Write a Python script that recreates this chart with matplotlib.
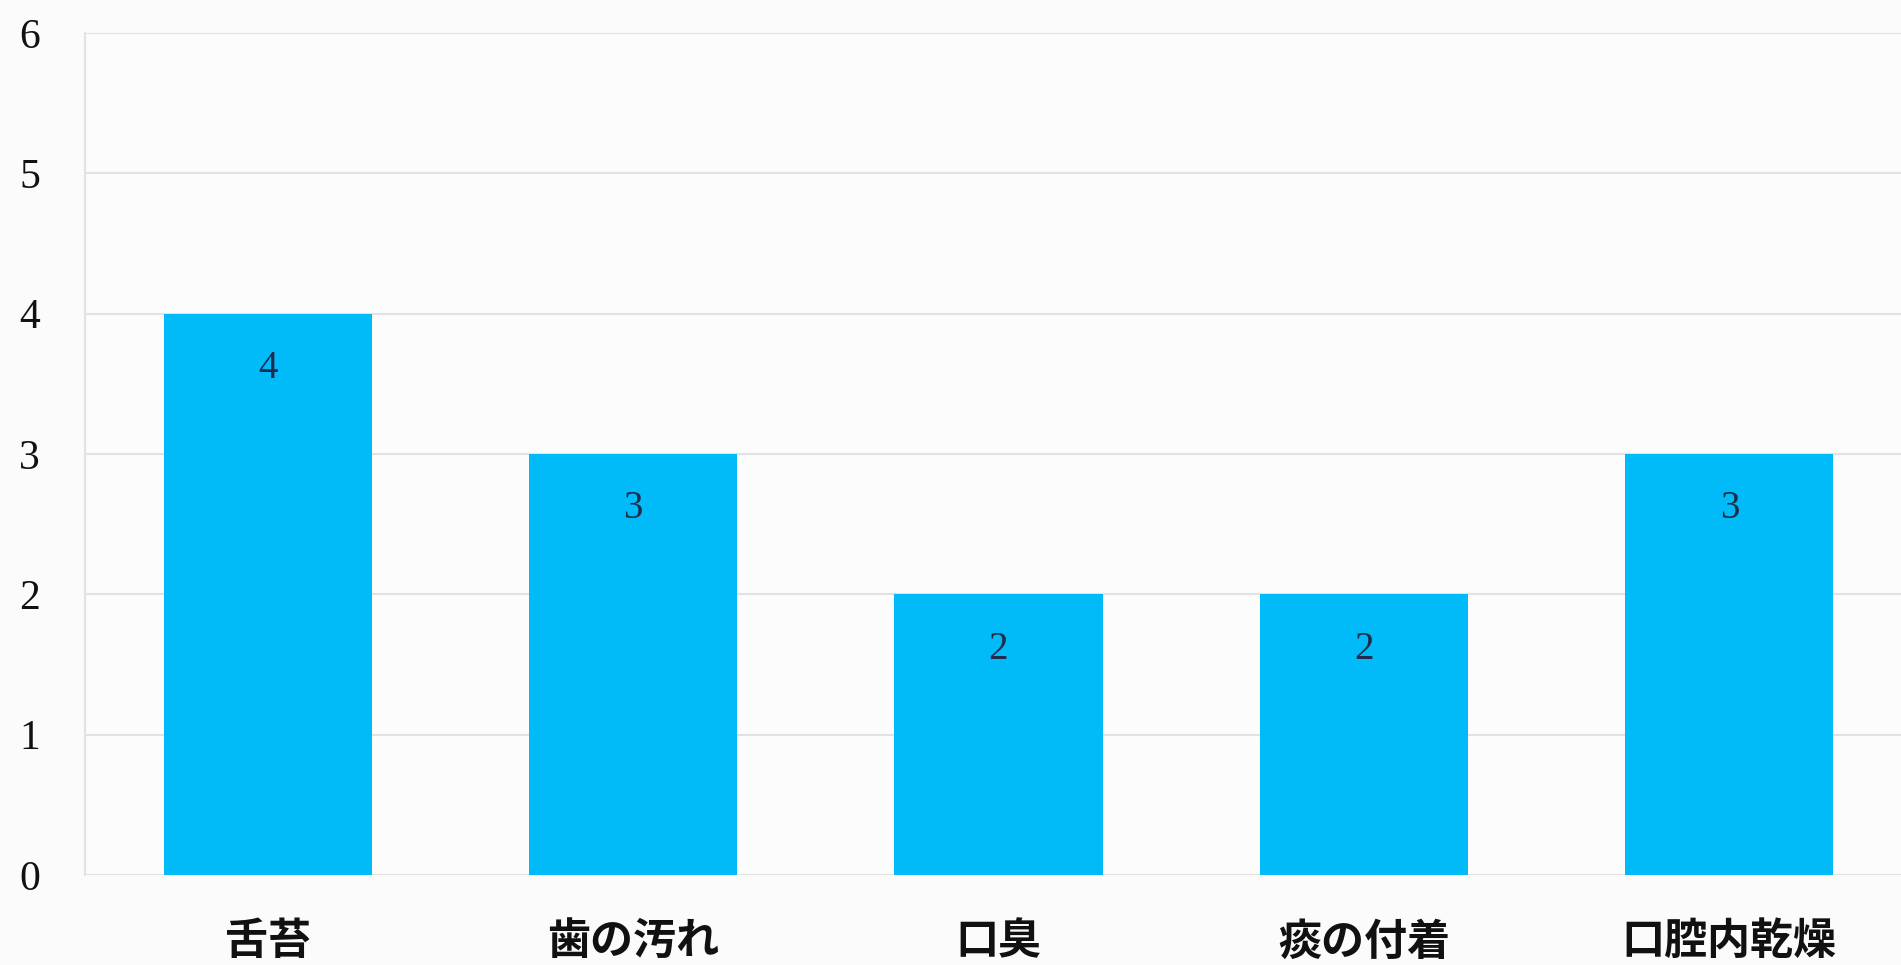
import matplotlib.pyplot as plt
import numpy as np

# データ
categories = ['舌苔', '歯の汚れ', '口臭', '痰の付着', '口腔内乾燥']
counts = [4, 3, 2, 2, 3]
y_ticks = [0, 1, 2, 3, 4, 5, 6]

bar_color = '#00BBF7'
grid_color = '#E2E2E2'

fig = plt.figure(figsize=(19.01, 9.65), dpi=100)
fig.patch.set_facecolor('#FBFBFB')
ax = fig.add_axes([0.0447, 0.0933, 0.9553, 0.8725])
ax.set_facecolor('#FCFCFC')

x = np.arange(len(categories))
bars = ax.bar(x, counts, width=0.57, color=bar_color, zorder=3)

# 値ラベル（棒の内側上部）
for rect, v in zip(bars, counts):
    ax.text(rect.get_x() + rect.get_width() / 2, v - 0.39, str(v),
            ha='center', va='center', fontsize=28,
            family=['Liberation Serif', 'DejaVu Serif'], color='#1F2D4D', zorder=4)

ax.set_xlim(-0.5, 4.47)
ax.set_ylim(0, 6)
ax.set_yticks(y_ticks)
ax.set_yticklabels([str(t) for t in y_ticks], family=['Liberation Serif', 'DejaVu Serif'],
                   fontsize=30, ha='center', color='#111111')
ax.set_xticks(x)
ax.set_xticklabels(categories, family=['Noto Sans CJK JP', 'DejaVu Sans'],
                   fontsize=31, fontweight='bold', color='#111111')

ax.tick_params(axis='y', length=0, pad=40)
ax.tick_params(axis='x', length=0, pad=32)

ax.grid(axis='y', color=grid_color, linewidth=1.5, zorder=0)
for s in ['top', 'right', 'bottom']:
    ax.spines[s].set_visible(False)
ax.spines['left'].set_color(grid_color)
ax.spines['left'].set_linewidth(1.5)

fig.savefig('out.png', dpi=100, facecolor=fig.get_facecolor())
